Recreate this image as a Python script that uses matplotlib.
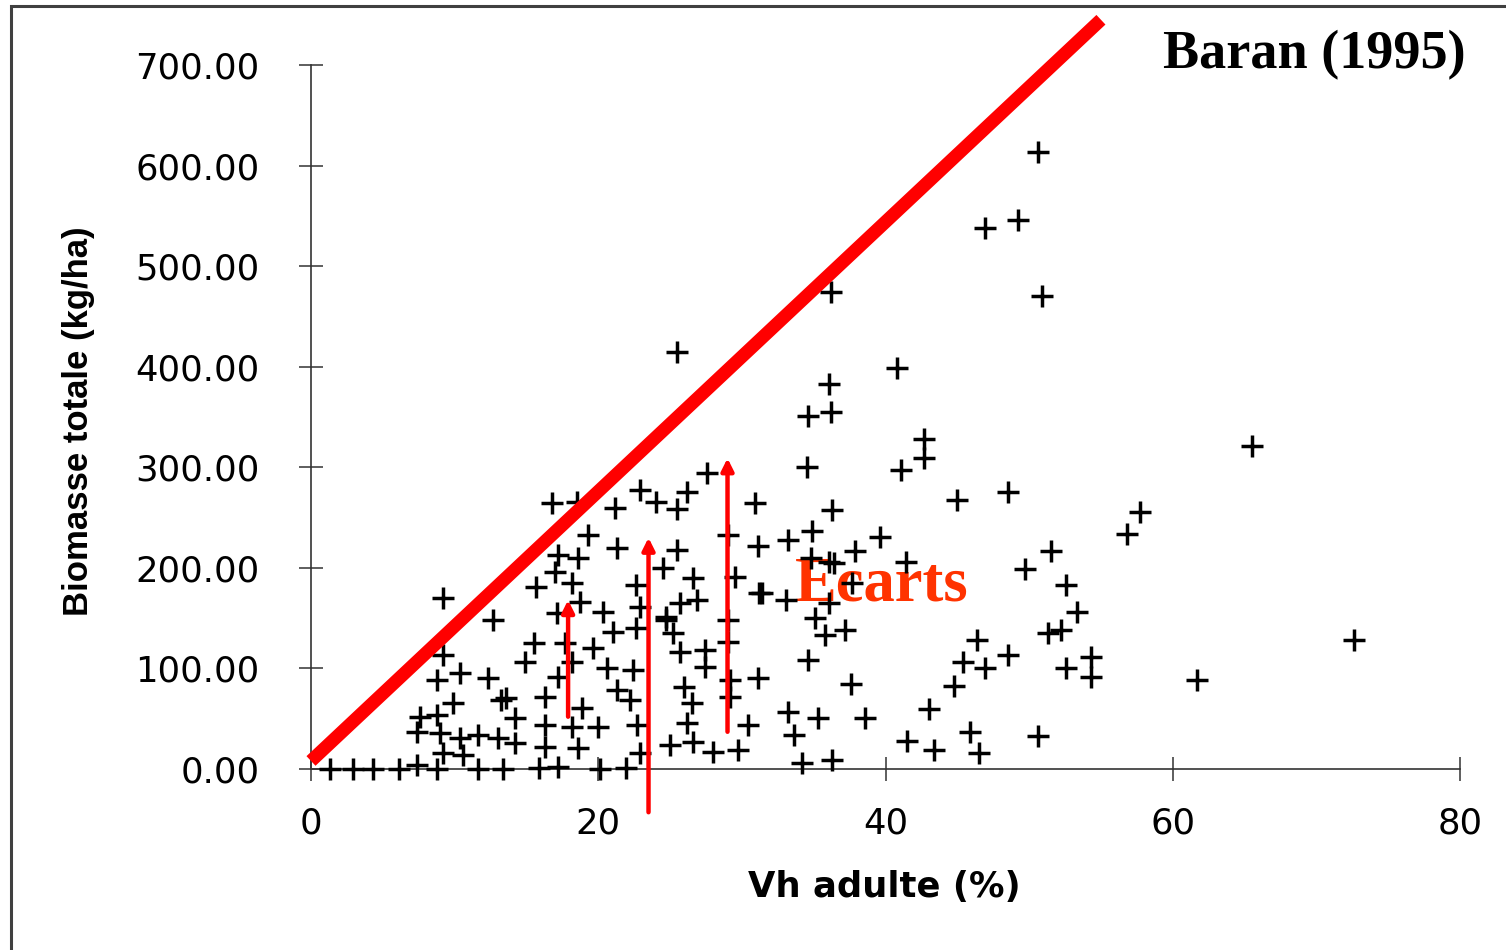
import matplotlib
matplotlib.use("Agg")
import matplotlib.pyplot as plt
from matplotlib.patches import Rectangle

# ---------------- data ----------------
vh_adulte = [
    50.6, 46.9, 49.2, 50.9, 36.2, 25.5, 40.8, 36.1, 34.6, 36.2, 42.7, 42.7, 41.1, 34.5, 27.6,
    65.5, 45.0, 48.5, 57.7, 56.8, 30.9, 36.3, 39.6, 34.9, 33.2, 31.1, 37.9, 41.4, 51.5, 49.7,
    52.6, 53.3, 52.2, 51.3, 54.3, 54.3, 52.6, 46.4, 45.4, 46.9, 48.5, 61.7, 72.6, 50.6, 44.8,
    43.0, 45.9, 46.5, 41.5, 43.4, 38.6, 37.6, 37.2, 35.8, 34.6, 35.3, 33.2, 33.6, 34.2, 36.3,
    36.1, 31.4, 34.8, 36.4, 36.1, 37.7, 35.1,
    9.2, 12.7, 9.2, 8.8, 12.3, 9.9, 13.2, 7.4, 9.0, 10.4, 11.6, 9.2, 7.4, 1.3, 4.3, 13.4,
    16.8, 18.5, 21.2, 24.0, 25.5, 19.3, 21.3, 18.6, 17.2, 24.5, 15.7, 18.2, 22.6, 17.1, 20.3,
    22.9, 21.0, 25.2, 15.5, 14.9, 18.2, 20.6, 22.2, 16.3, 18.9, 14.2, 16.3, 18.2, 22.7, 14.2,
    16.3, 22.9, 25.0, 17.2, 20.1, 21.9,
    26.6, 29.5, 26.9, 31.2, 33.1, 25.7, 27.4, 27.4, 31.1, 26.5, 26.2, 30.4, 26.6, 28.0, 29.7,
    10.6, 13.0, 7.6, 8.8, 10.4, 2.9, 6.1, 8.8, 11.6,
    17.0, 18.7, 24.7, 22.6, 17.7, 19.6, 17.2, 22.4, 21.3, 13.6, 20.0, 18.6, 15.9,
    29.0, 25.7, 24.7, 29.0, 29.0, 29.2, 26.0, 29.2, 22.9, 26.2, 25.5,
]
biomasse = [
    613, 538, 546, 470, 474, 415, 399, 383, 351, 355, 328, 309, 297, 300, 294,
    321, 267, 275, 256, 234, 264, 258, 231, 237, 228, 222, 217, 206, 217, 199,
    183, 156, 138, 135, 111, 91, 100, 128, 106, 100, 113, 88, 128, 33, 83,
    60, 37, 16, 28, 19, 51, 85, 138, 133, 108, 51, 57, 34, 6, 9,
    206, 175, 210, 205, 165, 185, 150,
    170, 148, 113, 88, 90, 66, 69, 37, 36, 31, 34, 16, 4, 0, 0, 0,
    264, 265, 260, 265, 259, 233, 220, 210, 213, 200, 181, 185, 183, 155, 156,
    161, 136, 135, 125, 106, 106, 100, 69, 72, 61, 51, 44, 42, 44, 26,
    22, 16, 24, 2, 0, 1,
    190, 191, 168, 175, 168, 116, 118, 101, 90, 66, 46, 44, 27, 17, 19,
    14, 31, 52, 54, 95, 0, 0, 0, 0,
    196, 166, 151, 140, 125, 120, 91, 98, 79, 71, 42, 21, 1,
    233, 165, 148, 148, 126, 88, 82, 72, 277, 275, 218,
]

# trend line (upper envelope)
line_x = [0, 55]
line_y = [8, 745]

# "ecarts" arrows
arrow_x = [17.9, 23.5, 29.0]
arrow_y0 = [52, -43, 37]
arrow_y1 = [168, 230, 309]

xticks = [0, 20, 40, 60, 80]
yticks = [0, 100, 200, 300, 400, 500, 600, 700]

# ---------------- figure ----------------
W, H = 1506, 950
fig = plt.figure(figsize=(W / 100, H / 100), dpi=100)
fig.patch.set_facecolor("white")

# outer frame
fig.patches.append(Rectangle((11 / W, -0.5), 2.0, 0.5 + 1 - 6 / H, transform=fig.transFigure,
                             fill=False, edgecolor="#404040", linewidth=2.2))

ax = fig.add_axes([311 / W, 1 - 769 / H, (1460 - 311) / W, (769 - 65) / H])
ax.set_xlim(0, 80)
ax.set_ylim(0, 700)
ax.set_facecolor("none")
for s in ["top", "right"]:
    ax.spines[s].set_visible(False)
for s in ["left", "bottom"]:
    ax.spines[s].set_color("#333333")
    ax.spines[s].set_linewidth(1.2)

ax.set_xticks(xticks)
ax.set_yticks(yticks)
ax.set_xticklabels([str(v) for v in xticks])
ax.set_yticklabels(["%.2f" % v for v in yticks])
ax.tick_params(axis="both", direction="inout", length=17.3, width=1.1, color="#333333")
ax.tick_params(axis="y", pad=28.5, labelsize=25.5)
ax.tick_params(axis="x", pad=18, labelsize=25.5)
for lab in ax.get_xticklabels() + ax.get_yticklabels():
    lab.set_family("DejaVu Sans")

# points
ax.plot(vh_adulte, biomasse, linestyle="none", marker="+", markersize=16.5,
        markeredgewidth=2.5, color="black", clip_on=False, zorder=4)

# red envelope line
ax.plot(line_x, line_y, color="#FF0000", linewidth=9.5, solid_capstyle="butt",
        clip_on=False, zorder=5)

# arrows
for xa, y0, y1 in zip(arrow_x, arrow_y0, arrow_y1):
    ax.annotate("", xy=(xa, y1), xytext=(xa, y0),
                arrowprops=dict(arrowstyle="-|>", color="#FF0000", lw=3.2,
                                mutation_scale=18, shrinkA=0, shrinkB=0),
                annotation_clip=False, zorder=6)

ax.text(33.7, 168, "Ecarts", color="#FF3300", fontsize=45, fontweight="bold",
        family="Liberation Serif", ha="left", va="baseline", zorder=3)

fig.text(1163 / W, 1 - 68 / H, "Baran (1995)", fontsize=39, fontweight="bold",
         family="Liberation Serif", ha="left", va="baseline", color="black")

fig.text(79 / W, 1 - 421 / H, "Biomasse totale (kg/ha)", rotation=90, fontsize=25,
         fontweight="bold", family="Liberation Sans", ha="center", va="center")
fig.text(884 / W, 1 - 887 / H, "Vh adulte (%)", fontsize=25.5, fontweight="bold",
         family="DejaVu Sans", ha="center", va="center")

fig.savefig("out.png", dpi=100)
